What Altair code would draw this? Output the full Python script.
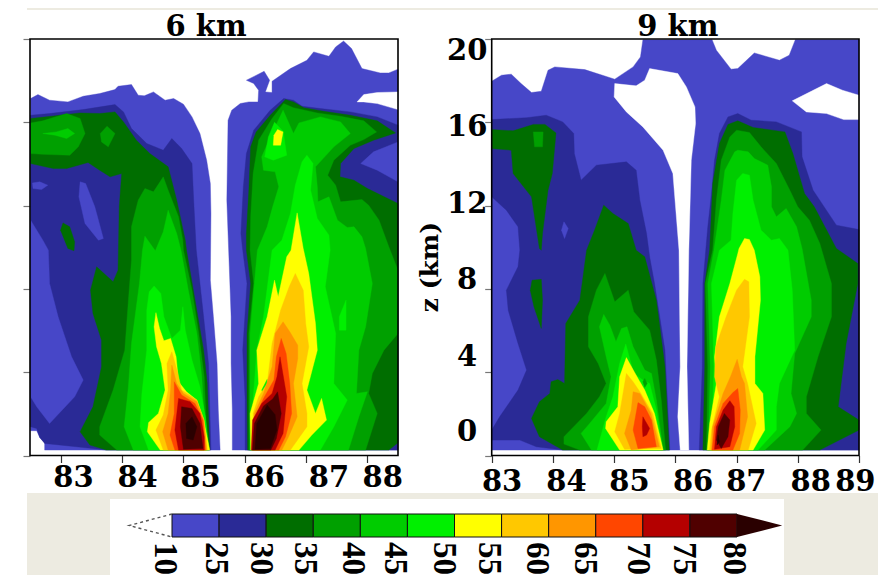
import altair as alt
import pandas as pd

# ---- contour classes -------------------------------------------------------
class_names = ["10-25","25-30","30-35","35-40","40-45","45-50","50-55","55-60","60-65","65-70","70-75","75-80",">80","none"]
class_colors = ["#4747C8","#2A2A96","#006E00","#00A000","#00CC00","#00F000","#FFFF00","#FFC800","#FF9600","#FF4600","#B40000","#500000","#2A0000","#FFFFFF"]
bar_labels = ["10","25","30","35","40","45","50","55","60","65","70","75","80"]
bar_label_pos = [-0.15,0.93,1.89,2.82,3.84,4.74,5.77,6.73,7.75,8.77,9.9,10.87,11.94]

# ---- axes ------------------------------------------------------------------
z_ticks = [0,4,8,12,16,20]
left_x_ticks = [83,84,85,86,87,88]
right_x_ticks = [83,84,85,86,87,88,89]
left_x_labels = ["83","84","85","86","87","88"]
left_x_label_pos = [83.2,84.25,85.28,86.33,87.38,88.26]
right_x_labels = ["83","84","85","86","87","88","89"]
right_x_label_pos = [83.17,84.22,85.25,86.29,87.16,88.21,88.94]
z_labels = ["20","16","12","8","4","0"]
z_label_pos = [19.42,15.77,12.07,8.43,4.73,1.13]

# ---- 6 km panel: contour outlines (longitude, height km)
A0 = [(82.5,17.14),(82.62,17.33),(82.81,17.06),(83.11,16.98),(83.36,17.25),(83.63,17.38),(83.88,17.57),(83.93,17.73),(84.15,17.81),(84.26,17.3),(84.36,17.27),(84.51,17.46),(84.7,17.06),(84.84,17.14),(85.0,16.87),(85.14,16.26),(85.27,15.46),(85.38,14.18),(85.44,13.06),(85.45,11.62),(85.44,8.42),(85.49,6.66),(85.55,4.42),(85.57,2.18),(85.6,0.26),(82.73,0.26),(82.73,0.62),(82.65,0.87),(82.6,1.19),(82.5,1.19)]
A1 = [(85.8,0.26),(85.8,2.18),(85.78,4.42),(85.78,6.66),(85.75,9.06),(85.71,12.26),(85.73,16.1),(85.79,16.58),(85.93,16.9),(86.07,16.98),(86.22,16.98),(86.23,17.54),(86.15,17.86),(86.03,18.02),(86.32,18.45),(86.41,18.02),(86.34,17.46),(86.45,17.43),(86.45,17.97),(86.75,18.58),(87.02,18.98),(87.13,19.38),(87.38,19.17),(87.49,19.62),(87.62,19.9),(87.75,19.54),(87.92,18.58),(88.22,18.37),(88.36,18.37),(88.51,18.55),(88.51,0.26)]
A_w = [(87.84,16.98),(87.95,17.33),(88.17,17.43),(88.51,17.46),(88.51,16.61),(88.17,16.9),(87.95,16.98)]
B0 = [(82.5,16.34),(82.81,16.42),(83.36,16.61),(83.88,16.85),(84.02,16.5),(84.15,15.7),(84.4,14.98),(84.67,14.66),(84.81,15.22),(84.97,14.74),(85.14,14.02),(85.17,12.1),(85.21,9.86),(85.33,6.66),(85.41,4.42),(85.45,0.26),(83.74,0.26),(83.25,0.42),(82.73,0.58),(82.65,0.87),(82.6,1.3),(82.5,1.38)]
B1 = [(86.01,0.26),(86.01,2.66),(85.97,5.06),(86.04,8.26),(85.97,9.86),(85.94,10.66),(85.98,12.9),(86.03,14.5),(86.15,15.62),(86.42,16.58),(86.64,17.14),(86.8,17.06),(86.94,16.77),(87.24,16.66),(87.73,16.5),(88.17,16.26),(88.51,15.86),(88.51,0.26)]
I0 = [(82.5,11.3),(82.7,10.34),(82.79,9.86),(82.81,8.26),(82.95,6.66),(83.17,4.74),(83.36,3.62),(83.22,2.82),(82.81,1.54),(82.6,2.34),(82.5,2.82)]
I1 = [(83.31,13.14),(83.4,13.06),(83.55,11.94),(83.69,10.42),(83.61,10.34),(83.39,11.14),(83.29,12.42)]
I2 = [(82.53,13.09),(82.65,13.14),(82.78,12.98),(82.68,12.77),(82.54,12.82)]
I3 = [(87.9,14.02),(88.11,14.58),(88.51,15.06),(88.51,13.14),(88.17,13.7)]
C0 = [(82.5,16.18),(82.98,16.34),(83.31,16.45),(83.63,16.42),(83.88,16.5),(84.02,16.02),(84.23,15.14),(84.45,14.5),(84.75,13.86),(84.89,12.26),(85.03,10.34),(85.05,9.86),(85.19,7.46),(85.33,5.06),(85.39,3.46),(85.43,0.26),(83.74,0.26),(83.47,0.5),(83.31,1.14),(83.52,2.34),(83.66,4.26),(83.66,5.54),(83.52,6.82),(83.48,7.94),(83.58,9.06),(83.85,8.34),(83.93,8.9),(83.95,11.94),(83.99,13.54),(83.8,13.38),(83.63,13.7),(83.44,14.07),(83.09,13.78),(82.87,13.78),(82.5,14.02)]
C1 = [(83.03,11.17),(83.14,10.98),(83.22,10.26),(83.21,9.83),(83.11,9.94),(82.99,10.82)]
C2 = [(86.05,0.26),(86.04,2.66),(86.04,5.86),(86.1,8.26),(86.03,9.86),(86.03,10.66),(86.07,12.74),(86.1,14.82),(86.19,15.54),(86.42,16.34),(86.67,17.09),(86.8,16.98),(86.97,16.7),(87.27,16.54),(87.73,16.34),(88.17,16.07),(88.47,15.49),(88.11,15.14),(87.79,14.74),(87.57,14.02),(87.56,13.38),(87.79,13.22),(88.01,12.82),(88.51,12.1),(88.51,0.61),(88.36,0.26)]
D0 = [(82.5,15.97),(82.7,16.07),(83.09,16.42),(83.31,16.18),(83.39,15.46),(83.28,14.82),(83.14,14.42),(82.7,14.46),(82.5,14.5)]
D1 = [(83.64,15.46),(83.75,15.81),(83.88,15.46),(83.77,14.82),(83.66,15.06)]
D2 = [(84.67,13.38),(84.75,12.74),(84.92,11.46),(84.99,10.34),(85.0,9.86),(85.14,7.94),(85.25,5.86),(85.34,3.78),(85.39,0.26),(83.91,0.26),(83.63,0.98),(83.63,1.38),(83.85,3.14),(84.04,5.06),(84.1,7.46),(84.15,9.38),(84.15,10.98),(84.26,12.26),(84.37,12.82),(84.51,12.66)]
D3 = [(86.07,0.26),(86.07,2.66),(86.07,5.86),(86.15,8.26),(86.09,9.86),(86.1,11.46),(86.14,13.54),(86.23,15.14),(86.45,16.18),(86.64,16.9),(86.8,16.7),(87.19,16.45),(87.57,16.29),(87.95,16.07),(88.16,15.54),(87.95,15.17),(87.73,14.9),(87.46,14.18),(87.36,13.46),(87.49,12.98),(87.57,12.18),(87.92,12.29),(88.03,12.02),(88.2,11.3),(88.36,10.02),(88.51,8.9),(88.51,5.86),(88.28,5.06),(88.09,3.94),(88.03,2.98),(88.17,2.02),(87.98,0.26)]
E0 = [(82.7,15.46),(82.92,15.54),(83.11,15.7),(83.22,15.46),(83.09,15.22),(82.9,15.38)]
E1 = [(84.75,11.78),(84.89,10.66),(84.96,9.86),(85.08,7.94),(85.22,5.86),(85.3,3.78),(85.37,0.26),(84.18,0.26),(84.03,1.38),(84.1,3.3),(84.15,5.38),(84.28,8.26),(84.33,9.86),(84.37,10.53),(84.54,9.83),(84.67,10.74)]
E2 = [(86.09,0.26),(86.09,2.66),(86.09,5.86),(86.15,7.94),(86.21,9.86),(86.37,10.98),(86.46,11.94),(86.56,12.9),(86.5,13.62),(86.31,13.7),(86.28,14.34),(86.45,15.46),(86.63,16.58),(86.8,15.46),(86.89,15.97),(87.24,16.26),(87.57,16.02),(87.73,15.46),(87.46,14.82),(87.16,13.86),(87.19,12.9),(87.2,12.18),(87.38,12.42),(87.52,11.3),(87.68,10.95),(87.79,10.98),(87.92,10.5),(87.98,9.94),(88.09,8.26),(87.98,6.18),(87.87,5.06),(87.83,2.98),(88.01,3.06),(87.87,1.86),(87.7,0.26)]
F0 = [(84.52,8.14),(84.63,7.78),(84.68,6.66),(84.81,5.62),(84.95,6.02),(84.99,7.14),(85.03,6.02),(85.14,4.58),(85.27,3.3),(85.36,1.86),(85.42,0.26),(84.43,0.26),(84.29,1.38),(84.32,2.98),(84.4,5.06),(84.4,6.98),(84.44,7.86)]
F1 = [(86.12,0.26),(86.14,2.66),(86.2,5.06),(86.31,6.66),(86.45,9.86),(86.61,10.34),(86.75,11.62),(86.83,12.98),(86.94,14.1),(87.02,14.42),(87.12,14.02),(87.08,12.74),(87.19,11.38),(87.38,10.58),(87.4,9.86),(87.32,8.1),(87.49,5.86),(87.46,3.46),(87.68,2.66),(87.46,1.38),(87.24,0.26)]
F2 = [(87.66,7.46),(87.66,6.02),(87.55,6.02),(87.55,6.66)]
F3 = [(86.49,16.0),(86.63,15.57),(86.69,14.42),(86.47,14.18),(86.33,14.34),(86.39,15.3)]
G0 = [(84.55,6.86),(84.61,6.1),(84.68,5.51),(84.79,5.62),(84.88,4.74),(84.92,3.54),(85.05,3.06),(85.22,2.66),(85.33,1.7),(85.43,0.26),(84.62,0.26),(84.41,1.14),(84.43,1.58),(84.59,2.02),(84.7,3.14),(84.64,4.42),(84.56,5.22),(84.52,6.18)]
G1 = [(86.86,11.65),(86.96,9.94),(87.05,8.74),(87.16,6.34),(87.19,5.06),(87.02,3.14),(87.16,2.02),(87.26,2.74),(87.34,1.7),(87.1,0.98),(86.89,0.26),(86.1,0.26),(86.09,2.02),(86.23,3.46),(86.2,5.06),(86.37,6.66),(86.49,8.42),(86.55,7.62),(86.69,9.54),(86.76,9.86)]
G2 = [(86.54,15.65),(86.63,15.54),(86.59,14.9),(86.47,14.9),(86.48,15.38)]
F4 = [(86.37,3.66),(86.4,3.46),(86.32,2.9),(86.28,3.14)]
H0 = [(84.81,4.98),(84.91,3.94),(84.97,3.14),(85.22,2.66),(85.34,1.7),(85.39,0.26),(84.67,0.26),(84.55,1.22),(84.67,1.94),(84.75,3.14),(84.73,4.42)]
H1 = [(86.83,8.74),(86.96,7.94),(87.0,6.34),(87.05,5.22),(86.94,3.46),(87.02,2.02),(87.02,1.38),(86.75,0.26),(86.15,0.26),(86.14,2.02),(86.23,2.82),(86.37,3.46),(86.45,5.38),(86.59,6.98),(86.73,8.1)]
J0 = [(84.81,4.34),(84.89,3.46),(85.0,2.98),(85.22,2.58),(85.33,1.7),(85.38,0.26),(84.75,0.26),(84.66,1.14),(84.75,2.02),(84.79,3.14)]
J1 = [(86.63,6.42),(86.74,5.94),(86.87,5.3),(86.87,4.66),(86.8,3.46),(86.86,1.86),(86.72,0.9),(86.61,0.26),(86.17,0.26),(86.16,2.02),(86.31,2.98),(86.45,4.26),(86.5,5.86)]
K0 = [(84.85,3.54),(84.97,2.9),(85.19,2.5),(85.32,1.7),(85.36,0.26),(84.86,0.26),(84.78,0.98),(84.85,2.02)]
K1 = [(86.6,5.62),(86.68,4.9),(86.74,3.46),(86.77,2.02),(86.67,0.9),(86.56,0.26),(86.12,0.26),(86.15,1.7),(86.31,2.74),(86.48,3.62),(86.52,4.74)]
M0 = [(84.92,2.74),(85.11,2.58),(85.27,2.02),(85.34,0.9),(85.34,0.26),(84.92,0.26),(84.86,1.22)]
M1 = [(86.58,4.74),(86.64,3.7),(86.69,2.82),(86.63,1.06),(86.5,0.26),(86.11,0.26),(86.13,1.7),(86.28,2.5),(86.45,2.98),(86.53,3.78)]
N0 = [(84.97,2.34),(85.14,2.26),(85.27,1.54),(85.32,0.34),(85.0,0.3),(84.95,1.38)]
N1 = [(86.54,3.06),(86.6,2.02),(86.52,0.82),(86.43,0.26),(86.13,0.26),(86.16,1.54),(86.31,2.38),(86.46,2.71)]
P0 = [(85.14,1.86),(85.22,1.38),(85.16,0.74),(85.05,0.82),(85.04,1.54)]
P1 = [(86.37,2.42),(86.5,1.96),(86.53,1.22),(86.42,0.34),(86.17,0.3),(86.2,1.54)]

left_polys = [(0,A0),(0,A1),(13,A_w),(1,B0),(1,B1),(0,I0),(0,I1),(0,I2),(0,I3),(2,C0),(2,C1),(2,C2),(3,D0),(3,D1),(3,D2),(3,D3),(4,E0),(4,E1),(4,E2),(5,F0),(5,F1),(5,F2),(5,F3),(6,G0),(6,G1),(6,G2),(5,F4),(7,H0),(7,H1),(8,J0),(8,J1),(9,K0),(9,K1),(10,M0),(10,M1),(11,N0),(11,N1),(12,P0),(12,P1)]

# ---- 9 km panel ------------------------------------------------------------
Ra = [(83.0,17.97),(83.16,18.26),(83.32,18.31),(83.48,17.86),(83.65,17.43),(83.81,17.49),(83.92,18.5),(84.03,18.66),(84.52,18.53),(85.01,18.07),(85.31,18.66),(85.43,19.14),(85.47,19.97),(86.6,19.97),(86.67,19.46),(86.91,18.55),(87.02,18.58),(87.29,19.33),(87.7,18.98),(87.86,19.22),(87.96,19.97),(89.0,19.97),(89.0,0.26),(83.0,0.26)]
Rw1 = [(86.22,0.26),(86.19,4.26),(86.22,9.86),(86.26,14.18),(86.33,15.94),(86.32,16.74),(86.18,17.7),(86.04,18.34),(85.58,18.58),(85.5,18.02),(85.36,17.75),(85.01,17.86),(85.0,17.22),(85.2,16.5),(85.47,15.78),(85.8,14.66),(85.96,13.54),(86.06,9.86),(86.08,4.26),(86.04,1.86),(86.08,0.26)]
Rw2 = [(87.91,17.03),(88.47,17.86),(88.73,17.54),(89.0,17.3),(89.0,16.13),(88.75,16.13),(88.47,16.42),(88.14,16.5)]
Rb0 = [(83.0,16.13),(83.57,16.22),(83.89,16.34),(84.16,16.02),(84.34,15.46),(84.35,14.5),(84.46,13.22),(84.71,13.94),(85.2,14.1),(85.36,13.7),(85.42,12.26),(85.53,10.66),(85.58,9.54),(85.66,8.26),(85.83,5.06),(85.91,0.26),(84.16,0.26),(83.73,0.42),(83.46,0.74),(83.0,0.74),(83.0,1.22),(83.13,1.86),(83.43,3.14),(83.57,4.1),(83.43,5.38),(83.27,6.98),(83.24,7.94),(83.43,9.06),(83.46,9.86),(83.43,10.98),(83.24,11.78),(83.0,12.42)]
Ri0 = [(84.18,11.22),(84.25,10.9),(84.19,10.42),(84.14,10.82)]
Rb1 = [(86.39,0.26),(86.44,4.26),(86.45,8.26),(86.53,10.98),(86.59,12.58),(86.64,14.18),(86.72,15.46),(86.86,16.26),(87.02,16.42),(87.24,16.1),(87.65,16.02),(88.06,15.54),(88.07,14.34),(88.25,12.74),(88.63,11.06),(89.0,10.85),(89.0,0.26)]
Rc0 = [(83.0,15.65),(83.35,15.59),(83.68,15.9),(83.87,15.9),(84.05,15.49),(83.99,13.54),(83.92,12.74),(83.83,10.66),(83.81,9.86),(83.78,9.94),(83.65,12.42),(83.35,13.54),(83.32,14.66),(83.0,14.74)]
Rc1 = [(83.66,8.42),(83.81,8.46),(83.83,7.46),(83.81,6.1),(83.69,7.14),(83.63,7.94)]
Rc2 = [(84.83,12.02),(84.98,11.62),(85.23,11.14),(85.36,9.86),(85.5,9.54),(85.69,7.46),(85.83,4.26),(85.9,0.26),(84.16,0.26),(83.78,0.9),(83.65,1.78),(83.78,2.58),(83.95,2.98),(83.97,3.54),(84.08,3.65),(84.19,3.46),(84.21,6.34),(84.44,7.46),(84.55,9.86),(84.68,10.82)]
Rc3 = [(86.45,0.26),(86.48,4.26),(86.48,8.26),(86.56,9.86),(86.61,13.06),(86.72,14.98),(86.86,15.9),(87.02,16.07),(87.27,15.75),(87.79,15.54),(87.92,14.5),(88.11,12.58),(88.27,11.94),(88.63,9.94),(88.98,9.22),(88.98,8.26),(88.79,5.38),(88.66,2.34),(89.0,1.7),(89.0,1.22),(88.36,0.26)]
Rd0 = [(83.68,15.54),(83.84,15.54),(83.83,14.82),(83.7,14.82)]
Rd1 = [(84.85,8.74),(85.01,7.38),(85.23,7.94),(85.32,6.9),(85.58,6.02),(85.69,4.58),(85.77,2.66),(85.84,0.26),(84.44,0.26),(84.18,0.55),(84.18,0.9),(84.55,2.02),(84.76,2.82),(84.87,3.46),(84.74,4.42),(84.58,5.22),(84.58,6.66),(84.71,7.94)]
Rd2 = [(86.51,0.26),(86.53,4.26),(86.49,8.26),(86.61,9.86),(86.67,12.26),(86.75,14.18),(86.89,15.3),(87.0,15.62),(87.21,15.51),(87.4,14.82),(87.65,14.02),(87.87,12.74),(88.0,11.94),(88.19,11.3),(88.36,10.18),(88.55,8.26),(88.55,6.66),(88.33,4.74),(88.14,2.82),(88.14,2.02),(88.38,1.22),(88.08,0.26)]
Re0 = [(84.83,6.77),(84.93,6.26),(85.03,5.46),(85.12,6.1),(85.21,6.18),(85.31,5.22),(85.5,4.1),(85.61,3.94),(85.69,2.66),(85.8,0.26),(84.63,0.26),(84.46,1.06),(84.6,1.54),(84.87,2.5),(84.95,3.78),(84.87,4.74),(84.76,6.18)]
Re1 = [(86.54,0.26),(86.57,4.26),(86.53,8.26),(86.63,9.86),(86.75,12.26),(86.81,13.7),(86.97,14.58),(87.02,14.66),(87.19,14.58),(87.29,14.26),(87.51,13.94),(87.57,12.9),(87.57,11.94),(87.65,11.46),(87.81,11.86),(87.98,10.98),(88.07,9.94),(88.22,7.46),(88.22,6.66),(87.95,4.9),(87.89,2.98),(87.98,2.02),(87.87,1.38),(87.46,0.26)]
Rf0 = [(85.19,5.35),(85.32,3.94),(85.47,3.62),(85.58,3.46),(85.69,2.18),(85.79,0.26),(84.72,0.26),(84.87,1.86),(84.98,2.82),(85.09,4.42)]
Rf1 = [(86.59,0.26),(86.63,4.26),(86.59,8.26),(86.72,9.86),(86.91,10.34),(86.94,11.62),(87.0,13.22),(87.1,13.54),(87.21,13.46),(87.27,12.26),(87.4,10.82),(87.57,10.34),(87.7,10.42),(87.84,9.86),(87.91,7.94),(87.95,5.06),(87.7,3.46),(87.65,2.34),(87.65,1.22),(87.35,0.26)]
Re2 = [(85.5,3.7),(85.54,3.46),(85.5,3.27),(85.47,3.54)]
Rg0 = [(85.2,4.7),(85.39,3.7),(85.5,3.14),(85.66,2.02),(85.8,0.26),(85.09,0.26),(84.86,1.3),(84.87,1.62),(85.06,2.34),(85.09,3.78)]
Rg1 = [(87.13,10.42),(87.21,10.37),(87.29,9.86),(87.38,8.58),(87.39,7.46),(87.3,4.74),(87.3,3.46),(87.43,2.98),(87.46,1.22),(87.27,0.26),(86.52,0.26),(86.56,1.54),(86.67,3.46),(86.64,4.74),(86.72,6.66),(86.89,8.26),(87.02,9.7),(87.04,9.94)]
Rh0 = [(85.2,3.94),(85.31,3.54),(85.42,3.06),(85.63,2.02),(85.77,0.34),(85.17,0.3),(85.01,1.14),(85.09,2.02)]
Rh1 = [(87.13,8.46),(87.2,8.34),(87.21,6.66),(87.1,4.26),(87.18,3.46),(87.32,1.54),(87.19,0.26),(86.56,0.26),(86.59,1.22),(86.72,2.82),(86.64,3.78),(86.66,5.22),(86.83,6.66),(87.0,7.94)]
Rj0 = [(85.31,3.06),(85.42,2.98),(85.6,2.02),(85.74,0.42),(85.28,0.26),(85.17,1.06),(85.28,2.18)]
Rj1 = [(87.01,4.62),(87.08,3.78),(87.13,3.46),(87.18,1.86),(87.13,1.22),(87.05,0.26),(86.59,0.26),(86.61,1.38),(86.78,2.98),(86.9,3.78)]
Rk0 = [(85.39,2.54),(85.5,2.34),(85.61,1.7),(85.69,0.42),(85.39,0.34),(85.31,1.22)]
Rk1 = [(86.94,3.02),(87.02,3.22),(87.06,2.18),(87.05,1.06),(86.94,0.26),(86.6,0.26),(86.64,1.38),(86.78,2.5)]
Rm0 = [(85.47,1.86),(85.58,1.3),(85.53,0.98),(85.47,0.9),(85.46,1.38)]
Rm1 = [(86.89,2.63),(86.96,2.34),(86.97,1.38),(86.89,0.42),(86.64,0.3),(86.67,1.38),(86.78,2.18)]
Rn1 = [(86.8,2.02),(86.89,1.7),(86.86,0.9),(86.75,0.34),(86.67,0.74),(86.7,1.38)]
Rp1 = [(86.7,0.98),(86.72,0.66),(86.68,0.5)]

right_polys = [(0,Ra),(13,Rw1),(13,Rw2),(1,Rb0),(0,Ri0),(1,Rb1),(2,Rc0),(2,Rc1),(2,Rc2),(2,Rc3),(3,Rd0),(3,Rd1),(3,Rd2),(4,Re0),(4,Re1),(5,Rf0),(5,Rf1),(3,Re2),(6,Rg0),(6,Rg1),(7,Rh0),(7,Rh1),(8,Rj0),(8,Rj1),(9,Rk0),(9,Rk1),(10,Rm0),(10,Rm1),(11,Rn1),(12,Rp1)]

# ---- geometry of the page (group pixels) -----------------------------------
W, H = 870, 567
PAGE_BG = "#EDEBE1"
FONT = "DejaVu Serif"
left_x = alt.Scale(domain=[82.49,88.51], range=[22,390], nice=False, zero=False)
right_x = alt.Scale(domain=[83,89], range=[483.7,851], nice=False, zero=False)
z_scale = alt.Scale(domain=[0,20], range=[447.5,31], nice=False, zero=False)
bar_x = alt.Scale(domain=[0,12], range=[164,729], nice=False, zero=False)
bar_y = alt.Scale(domain=[0,1], range=[529,506], nice=False, zero=False)
color_scale = alt.Scale(domain=class_names, range=class_colors)

def poly_frame(polys):
    rows = []
    for n, (lev, pts) in enumerate(polys):
        for i, (x, z) in enumerate(pts):
            rows.append({"poly": n, "i": i, "x": x, "z": z, "cls": class_names[lev]})
    return pd.DataFrame(rows)

def contour(polys, xs):
    return alt.Chart(poly_frame(polys)).mark_line(filled=True, interpolate="linear-closed", strokeWidth=0.4).encode(
        x=alt.X("x:Q", scale=xs, axis=None),
        y=alt.Y("z:Q", scale=z_scale, axis=None),
        color=alt.Color("cls:N", scale=color_scale, legend=None),
        stroke=alt.Stroke("cls:N", scale=color_scale, legend=None),
        detail="poly:N",
        order="i:Q",
    )

def ticks(xs, tick_vals, left_offset):
    df = pd.DataFrame({"x": [tick_vals[0]], "z": [0]})
    return alt.Chart(df).mark_point(opacity=0).encode(
        x=alt.X("x:Q", scale=xs, axis=alt.Axis(orient="bottom", values=tick_vals, labels=False, title=None, grid=False, domain=False, tickSize=7, tickColor="#333333", tickWidth=1.2, offset=-(H-447.5))),
        y=alt.Y("z:Q", scale=z_scale, axis=alt.Axis(orient="left", values=z_ticks, labels=False, title=None, grid=False, domain=False, tickSize=7, tickColor="#777777", tickWidth=1.2, offset=-left_offset)),
    )

def frame(xs, xr):
    df = pd.DataFrame({"x": [xr[0]], "x2": [xr[1]], "z": [0], "z2": [20]})
    return alt.Chart(df).mark_rect(fill=None, stroke="#000000", strokeWidth=1.6).encode(
        x=alt.X("x:Q", scale=xs, axis=None), x2="x2:Q",
        y=alt.Y("z:Q", scale=z_scale, axis=None), y2="z2:Q",
    )

def texts(labels, xv, zv, xs, size=29, **kw):
    df = pd.DataFrame({"t": labels, "x": xv, "z": zv})
    return alt.Chart(df).mark_text(font=FONT, fontWeight="bold", fontSize=size, color="#000000", baseline="middle", align="center", **kw).encode(
        x=alt.X("x:Q", scale=xs, axis=None),
        y=alt.Y("z:Q", scale=z_scale, axis=None),
        text="t:N",
    )

one = pd.DataFrame({"a": [0]})
def page_rect(x, x2, y, y2, col):
    return alt.Chart(one).mark_rect(color=col).encode(x=alt.value(x), x2=alt.value(x2), y=alt.value(y), y2=alt.value(y2))

# colour bar
bar_df = pd.DataFrame({"cls": class_names[:12], "i": list(range(12)), "j": list(range(1, 13)), "lo": [0]*12, "hi": [1]*12})
bar = alt.Chart(bar_df).mark_rect(stroke="#111111", strokeWidth=1).encode(
    x=alt.X("i:Q", scale=bar_x, axis=None), x2="j:Q",
    y=alt.Y("lo:Q", scale=bar_y, axis=None), y2="hi:Q",
    color=alt.Color("cls:N", scale=color_scale, legend=None),
)
tip_df = pd.DataFrame({"i": [0,1,2], "x": [12,12.96,12], "y": [0,0.5,1], "cls": [">80"]*3})
tip = alt.Chart(tip_df).mark_line(filled=True, interpolate="linear-closed").encode(
    x=alt.X("x:Q", scale=bar_x, axis=None), y=alt.Y("y:Q", scale=bar_y, axis=None),
    color=alt.Color("cls:N", scale=color_scale, legend=None), order="i:Q",
)
low_df = pd.DataFrame({"i": [0,1,2], "x": [0,-0.91,0], "y": [1,0.5,0]})
low = alt.Chart(low_df).mark_line(color="#555555", strokeDash=[3,3], strokeWidth=1.4).encode(
    x=alt.X("x:Q", scale=bar_x, axis=None), y=alt.Y("y:Q", scale=bar_y, axis=None), order="i:Q",
)
bar_txt_df = pd.DataFrame({"t": bar_labels, "x": bar_label_pos, "y": [-0.93]*13})
bar_txt = alt.Chart(bar_txt_df).mark_text(font="Liberation Serif", fontWeight="bold", fontSize=33, angle=90, baseline="middle", align="center", color="#000000").encode(
    x=alt.X("x:Q", scale=bar_x, axis=None), y=alt.Y("y:Q", scale=bar_y, axis=None), text="t:N",
)

ztitle = pd.DataFrame({"t": ["z (km)"], "x": [81.99], "z": [9.05]})
z_title = alt.Chart(ztitle).mark_text(font=FONT, fontWeight="bold", fontSize=25, angle=270, baseline="middle", align="center", color="#000000").encode(
    x=alt.X("x:Q", scale=right_x, axis=None), y=alt.Y("z:Q", scale=z_scale, axis=None), text="t:N",
)

chart = alt.layer(
    page_rect(19, W, 0, 2, PAGE_BG),
    page_rect(19, W, 485, H, PAGE_BG),
    page_rect(102, 776, 491, H, "#FFFFFF"),
    ticks(left_x, left_x_ticks, 22),
    ticks(right_x, right_x_ticks, 483.7),
    contour(left_polys, left_x),
    contour(right_polys, right_x),
    frame(left_x, [82.49, 88.51]),
    frame(right_x, [83, 89]),
    texts(left_x_labels, left_x_label_pos, [-1.1]*6, left_x),
    texts(right_x_labels, right_x_label_pos, [-1.27]*7, right_x),
    texts(z_labels, [82.6]*6, z_label_pos, right_x),
    texts(["6 km"], [85.37], [20.6], left_x),
    texts(["9 km"], [86.04], [20.6], right_x),
    z_title,
    bar, tip, low, bar_txt,
).resolve_scale(x="independent", y="independent").properties(
    width=W, height=H, padding=0, autosize="none", background="#FFFFFF",
).configure_view(stroke=None)

chart.save("out.html", embed_options={"renderer": "svg", "actions": False})
